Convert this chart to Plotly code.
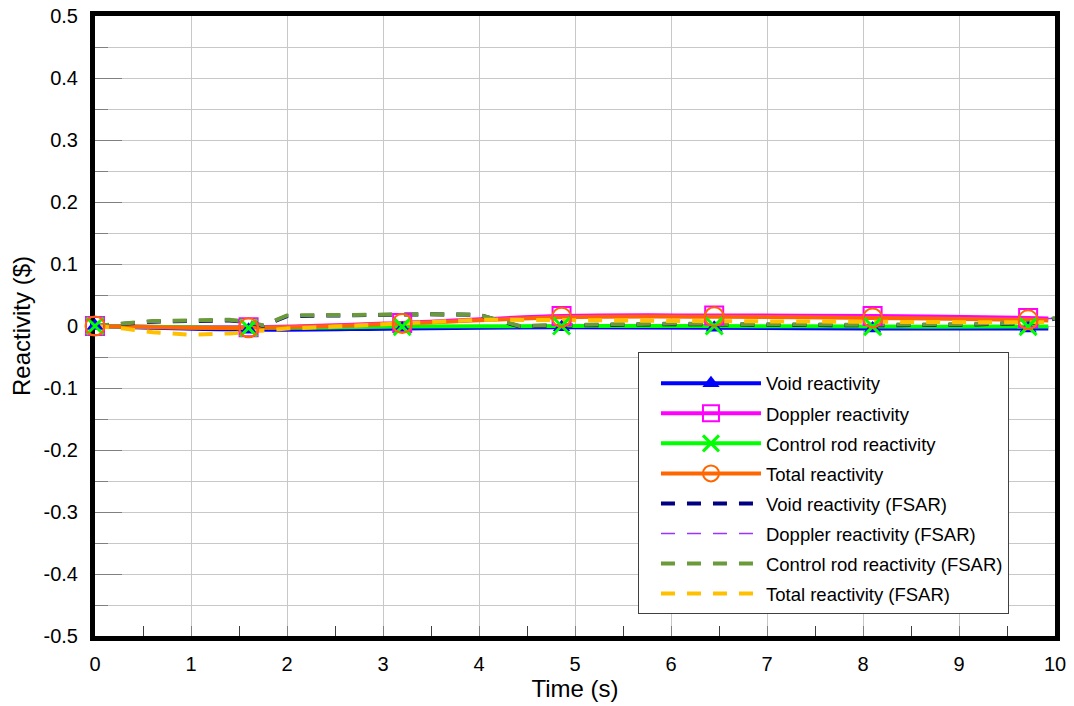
import plotly.graph_objects as go

# ---------------- data ----------------
time_solid = [0.0, 1.6, 3.2, 4.86, 6.45, 8.1, 9.72, 9.93]
void_react = [0.0, -0.006, -0.004, -0.002, -0.003, -0.004, -0.004, -0.004]
doppler_react = [0.0, -0.002, 0.005, 0.016, 0.017, 0.016, 0.013, 0.012]
rod_react = [0.0, -0.003, -0.001, 0.0, 0.0, -0.001, -0.001, -0.001]
total_react = [0.0, -0.003, 0.004, 0.014, 0.015, 0.013, 0.010, 0.009]
n_markers = 7

time_fsar = [0.0, 0.3, 0.6, 1.0, 1.4, 1.6, 1.75, 2.0, 2.5, 3.0, 3.5, 4.0, 4.2, 4.45,
             4.6, 5.0, 5.5, 6.0, 7.0, 8.0, 9.0, 9.5, 9.8, 10.0]
void_fsar = [0.0, 0.003, 0.007, 0.008, 0.009, 0.006, 0.0, 0.016, 0.017, 0.018, 0.019, 0.018,
             0.009, -0.002, 0.0, 0.001, 0.002, 0.003, 0.002, 0.001, 0.002, 0.003, 0.005, 0.012]
rod_fsar = [0.0, 0.004, 0.008, 0.009, 0.010, 0.007, 0.001, 0.017, 0.018, 0.019, 0.019, 0.018,
            0.010, -0.001, 0.001, 0.002, 0.003, 0.004, 0.003, 0.002, 0.003, 0.004, 0.006, 0.013]
doppler_fsar = [0.0, -0.001, -0.001, -0.002, -0.002, -0.002, -0.002, -0.001, 0.001, 0.003,
                0.006, 0.010, 0.012, 0.014, 0.015, 0.016, 0.016, 0.016, 0.016, 0.015, 0.014,
                0.013, 0.012, 0.012]
total_fsar = [0.0, -0.004, -0.010, -0.014, -0.012, -0.009, -0.007, -0.004, -0.001, 0.003,
              0.007, 0.010, 0.010, 0.010, 0.010, 0.009, 0.009, 0.008, 0.007, 0.006, 0.006,
              0.006, 0.006, 0.006]

y_tickvals = [0.5, 0.4, 0.3, 0.2, 0.1, 0.0, -0.1, -0.2, -0.3, -0.4, -0.5]
y_ticktext = ["0.5", "0.4", "0.3", "0.2", "0.1", "0", "-0.1", "-0.2", "-0.3", "-0.4", "-0.5"]
x_tickvals = [0, 1, 2, 3, 4, 5, 6, 7, 8, 9, 10]

# ---------------- styles ----------------
FONT = "Liberation Sans, Arial, sans-serif"
BLUE, MAGENTA, LIME, ORANGE = "#0000FF", "#FF00FF", "#00FF00", "#FF6600"
NAVY, PURPLE, OLIVE, GOLD = "#000080", "#9933FF", "#6B9A3A", "#FFC000"

fig = go.Figure()

# FSAR Doppler (hidden under the solid Doppler curve)
fig.add_trace(go.Scatter(x=time_fsar, y=doppler_fsar, mode="lines", showlegend=False,
                         line=dict(color=PURPLE, width=1.5, dash="12px,13px")))

solid = [
    ("Void reactivity", void_react, BLUE, dict(symbol="triangle-up", size=15, color=BLUE)),
    ("Doppler reactivity", doppler_react, MAGENTA,
     dict(symbol="square-open", size=18, color=MAGENTA, line=dict(width=2, color=MAGENTA))),
    ("Control rod reactivity", rod_react, LIME,
     dict(symbol="x-thin-open", size=17, color=LIME, line=dict(width=3, color=LIME))),
    ("Total reactivity", total_react, ORANGE,
     dict(symbol="circle-open", size=19, color=ORANGE, line=dict(width=2, color=ORANGE))),
]

for name, ys, col, mk in solid:
    fig.add_trace(go.Scatter(x=time_solid, y=ys, mode="lines", showlegend=False,
                             line=dict(color=col, width=4, shape="spline")))

fig.add_trace(go.Scatter(x=time_fsar, y=void_fsar, mode="lines", showlegend=False,
                         line=dict(color=NAVY, width=4, dash="14px,12px")))
fig.add_trace(go.Scatter(x=time_fsar, y=rod_fsar, mode="lines", showlegend=False,
                         line=dict(color=OLIVE, width=4, dash="14px,12px")))
fig.add_trace(go.Scatter(x=time_fsar, y=total_fsar, mode="lines", showlegend=False,
                         line=dict(color=GOLD, width=4, dash="14px,12px")))

for name, ys, col, mk in solid:
    fig.add_trace(go.Scatter(x=time_solid[:n_markers], y=ys[:n_markers], mode="markers",
                             showlegend=False, marker=mk, cliponaxis=False))

# legend entries
for i, (name, ys, col, mk) in enumerate(solid):
    fig.add_trace(go.Scatter(x=[None], y=[None], mode="lines+markers", name=name,
                             legendgroup=f"g{i}",
                             line=dict(color=col, width=4), marker=mk))
legend_dash = [
    ("Void reactivity (FSAR)", NAVY, 4),
    ("Doppler reactivity (FSAR)", PURPLE, 1.5),
    ("Control rod reactivity (FSAR)", OLIVE, 4),
    ("Total reactivity (FSAR)", GOLD, 4),
]
for i, (name, col, w) in enumerate(legend_dash):
    fig.add_trace(go.Scatter(x=[None], y=[None], mode="lines", name=name,
                             legendgroup=f"h{i}",
                             line=dict(color=col, width=w, dash="14px,12px")))

fig.update_layout(
    width=1074, height=706,
    margin=dict(l=95, r=19, t=16, b=70),
    paper_bgcolor="white", plot_bgcolor="white",
    font=dict(family=FONT, size=20, color="black"),
    legend=dict(x=0.5656, y=0.458, xanchor="left", yanchor="top",
                bgcolor="white", bordercolor="#404040", borderwidth=1,
                font=dict(size=18.5), itemwidth=100, indentation=17,
                traceorder="grouped", tracegroupgap=3,
                title=dict(text=" ", font=dict(size=9))),
)

fig.update_xaxes(
    range=[0, 10], tickvals=x_tickvals, ticks="inside", ticklen=10, tickcolor="#808080",
    showgrid=True, gridcolor="#c8c8c8", gridwidth=1, zeroline=False,
    showline=True, linewidth=5, linecolor="black", mirror=True, layer="below traces",
    minor=dict(dtick=0.5, ticks="inside", ticklen=10, tickcolor="#404040", showgrid=False),
    ticklabelstandoff=6, automargin=False,
    title=dict(text="Time (s)", font=dict(size=24), standoff=0),
)
fig.update_yaxes(
    range=[-0.5, 0.5], tickvals=y_tickvals, ticktext=y_ticktext, ticks="inside", ticklen=27,
    tickcolor="#808080", showgrid=True, gridcolor="#c8c8c8", gridwidth=1, zeroline=False,
    showline=True, linewidth=5, linecolor="black", mirror=True, layer="below traces",
    minor=dict(dtick=0.05, ticks="inside", ticklen=13, tickcolor="#808080", showgrid=True,
               gridcolor="#c8c8c8", gridwidth=1),
    ticklabelstandoff=8, automargin=False,
    title=dict(text="Reactivity ($)", font=dict(size=24), standoff=8),
)

fig.write_html("out.html")
